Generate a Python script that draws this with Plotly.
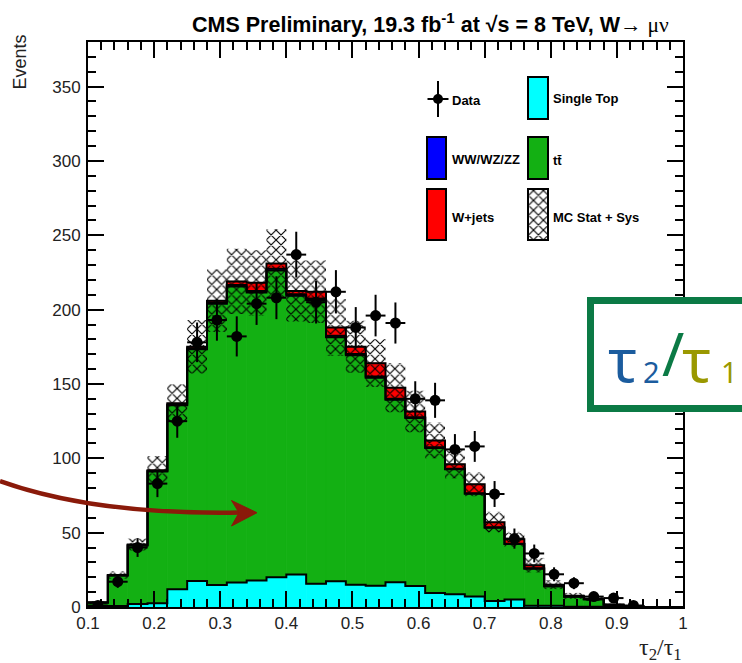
import numpy as np
import plotly.graph_objects as go

# ---- binning of tau2/tau1 (30 bins of width 0.03) ----
bin_edges = [0.10, 0.13, 0.16, 0.19, 0.22, 0.25, 0.28, 0.31, 0.34, 0.37, 0.40,
             0.43, 0.46, 0.49, 0.52, 0.55, 0.58, 0.61, 0.64, 0.67, 0.70,
             0.73, 0.76, 0.79, 0.82, 0.85, 0.88, 0.91, 0.94, 0.97, 1.00]
bin_centers = [0.115, 0.145, 0.175, 0.205, 0.235, 0.265, 0.295, 0.325, 0.355, 0.385,
               0.415, 0.445, 0.475, 0.505, 0.535, 0.565, 0.595, 0.625, 0.655, 0.685,
               0.715, 0.745, 0.775, 0.805, 0.835, 0.865, 0.895, 0.925, 0.955, 0.985]
bin_width = 0.03

# ---- MC backgrounds (events per bin) ----
single_top = [0.3, 0.7, 2.0, 2.5, 12.0, 17.5, 14.8, 16.4, 17.8, 20.0,
              21.8, 15.6, 17.4, 15.0, 14.3, 16.6, 14.1, 9.5, 8.5, 7.0,
              4.0, 5.0, 0.8, 0.8, 0.2, 0.1, 0.0, 0.0, 0.0, 0.0]
ttbar = [2.7, 20.5, 39.4, 88.7, 123.7, 155.9, 189.2, 199.2, 193.7, 206.4,
         187.5, 190.9, 164.1, 154.3, 139.9, 122.8, 113.0, 97.5, 84.1, 69.1,
         49.3, 37.3, 25.0, 13.1, 6.7, 5.1, 1.5, 0.7, 0.0, 0.0]
diboson = [0.0, 0.0, 0.1, 0.3, 0.5, 0.6, 0.8, 0.9, 1.0, 1.1,
           1.0, 1.0, 0.9, 0.8, 0.8, 0.7, 0.6, 0.5, 0.4, 0.4,
           0.3, 0.2, 0.2, 0.1, 0.1, 0.0, 0.0, 0.0, 0.0, 0.0]
wjets = [0.0, 0.3, 0.5, 0.5, 0.8, 1.0, 1.2, 2.5, 5.5, 3.5,
         2.2, 4.5, 5.6, 4.9, 9.0, 7.4, 3.8, 4.5, 3.0, 6.0,
         3.4, 3.0, 2.0, 1.0, 0.5, 0.3, 0.0, 0.0, 0.0, 0.0]
mc_unc = [1.0, 2.5, 4.0, 9.5, 13.0, 18.0, 21.0, 22.0, 22.0, 23.0,
          20.5, 21.0, 19.0, 17.5, 16.0, 16.5, 14.0, 12.0, 9.5, 8.0,
          7.0, 5.0, 5.0, 3.0, 2.0, 1.5, 0.8, 0.5, 0.0, 0.0]

# ---- observed data ----
data_counts = [1, 17, 40, 83, 125, 178, 193, 182, 204, 208,
               237, 205, 212, 188, 196, 191, 140, 139, 106, 108,
               76, 46, 36, 22, 16, 7, 6, 1, None, None]

# ---- axis ticks ----
x_tickvals = [0.1, 0.2, 0.3, 0.4, 0.5, 0.6, 0.7, 0.8, 0.9, 1.0]
x_ticktext = ["0.1", "0.2", "0.3", "0.4", "0.5", "0.6", "0.7", "0.8", "0.9", "1"]
y_tickvals = [0, 50, 100, 150, 200, 250, 300, 350]

# ---- colours ----
C_TOP = "#00FFFF"
C_TT = "#13B013"
C_VV = "#0000FF"
C_WJ = "#FF0000"

W, H = 742, 663
L, R, T, B = 88, 59, 42, 56
XR = (0.1, 1.0)
YR = (0.0, 380.0)
PW, PH = W - L - R, H - T - B


def px(x):  # pixel x -> paper
    return (x - L) / PW


def py(y):  # pixel y -> paper
    return (H - B - y) / PH


def xd(x):  # pixel x -> data
    return XR[0] + (x - L) / PW * (XR[1] - XR[0])


def yd(y):  # pixel y -> data
    return YR[0] + (H - B - y) / PH * (YR[1] - YR[0])


st = np.array(single_top)
tt = np.array(ttbar)
vv = np.array(diboson)
wj = np.array(wjets)
lvl1 = st
lvl2 = lvl1 + tt
lvl3 = lvl2 + vv
lvl4 = lvl3 + wj
unc = np.array(mc_unc)

HATCH = dict(shape="x", fillmode="replace", size=7, solidity=0.3,
             fgcolor="black", bgcolor="rgba(0,0,0,0)")

fig = go.Figure()

# stacked filled histograms
for base, height, col in [(np.zeros_like(st), st, C_TOP), (lvl1, tt, C_TT),
                          (lvl2, vv, C_VV), (lvl3, wj, C_WJ)]:
    fig.add_trace(go.Bar(x=bin_centers, y=height, base=base, width=bin_width,
                         marker=dict(color=col, line=dict(width=0.8, color=col)),
                         showlegend=False, hoverinfo="skip"))

# histogram contours
for lev in [lvl1, lvl2, lvl3, lvl4]:
    fig.add_trace(go.Scatter(x=bin_edges, y=list(lev) + [lev[-1]], mode="lines",
                             line=dict(color="black", width=2, shape="hv"),
                             showlegend=False, hoverinfo="skip"))

# MC stat + syst band
fig.add_trace(go.Bar(x=bin_centers, y=2 * unc, base=lvl4 - unc, width=bin_width,
                     marker=dict(color="black", line=dict(width=0), pattern=HATCH),
                     showlegend=False, hoverinfo="skip"))

# data points
dx = [c for c, n in zip(bin_centers, data_counts) if n is not None]
dy = [n for n in data_counts if n is not None]
fig.add_trace(go.Scatter(x=dx, y=dy, mode="markers",
                         marker=dict(color="black", size=11),
                         error_y=dict(type="data", array=list(np.sqrt(dy)), width=0,
                                      thickness=2, color="black"),
                         error_x=dict(type="constant", value=bin_width / 2, width=0,
                                      thickness=2, color="black"),
                         showlegend=False, hoverinfo="skip"))

# ---- legend (drawn in place) ----
lab_font = dict(family="Liberation Sans", size=13, color="black", weight="bold")
shapes = []
annots = []

# Data entry
fig.add_trace(go.Scatter(x=[xd(438)], y=[yd(99)], mode="markers",
                         marker=dict(color="black", size=10),
                         error_y=dict(type="constant", value=18 / PH * (YR[1] - YR[0]),
                                      width=0, thickness=2, color="black"),
                         error_x=dict(type="constant", value=10.5 / PW * (XR[1] - XR[0]),
                                      width=0, thickness=2, color="black"),
                         showlegend=False, hoverinfo="skip"))

boxes = [((427, 446), (137, 179), C_VV), ((427, 446), (189, 240), C_WJ),
         ((528, 548), (77, 119), C_TOP), ((528, 548), (137, 179), C_TT)]
for (x0, x1), (y0, y1), col in boxes:
    shapes.append(dict(type="rect", xref="x", yref="y", x0=xd(x0), x1=xd(x1),
                       y0=yd(y1), y1=yd(y0), fillcolor=col,
                       line=dict(color="black", width=2), layer="above"))

# hatched legend box
hx0, hx1, hy0, hy1 = 528, 548, 189, 240
fig.add_trace(go.Bar(x=[xd((hx0 + hx1) / 2)], y=[yd(hy0) - yd(hy1)], base=[yd(hy1)],
                     width=xd(hx1) - xd(hx0),
                     marker=dict(color="black", line=dict(width=0), pattern=HATCH),
                     showlegend=False, hoverinfo="skip"))
shapes.append(dict(type="rect", xref="x", yref="y", x0=xd(hx0), x1=xd(hx1),
                   y0=yd(hy1), y1=yd(hy0), line=dict(color="black", width=2),
                   layer="above"))

for txt, x, y in [("Data", 450, 100), ("WW/WZ/ZZ", 450, 159), ("W+jets", 450, 217),
                  ("Single Top", 551, 99), ("tt\u0304", 551, 160),
                  ("MC Stat + Sys", 551, 217)]:
    annots.append(dict(text=txt, xref="paper", yref="paper", x=px(x), y=py(y),
                       xanchor="left", yanchor="middle", showarrow=False,
                       font=lab_font))

# ---- title and axis titles ----
annots.append(dict(
    text="CMS Preliminary, 19.3 fb<sup>-1</sup> at √s = 8 TeV, W→ "
         "<span style='font-family:Liberation Serif;font-weight:normal'>μν</span>",
    xref="paper", yref="paper", x=px(190), y=py(23), xanchor="left", yanchor="middle",
    showarrow=False, font=dict(family="Liberation Sans", size=21.5, color="black",
                               weight="bold")))
annots.append(dict(text="Events", xref="paper", yref="paper", x=px(20), y=py(33),
                   xanchor="center", yanchor="top", textangle=-90, showarrow=False,
                   font=dict(family="Liberation Sans", size=18, color="#222")))
annots.append(dict(text="τ<sub>2</sub>/τ<sub>1</sub>", xref="paper", yref="paper",
                   x=px(684), y=py(649), xanchor="right", yanchor="middle",
                   showarrow=False,
                   font=dict(family="Liberation Serif", size=24, color="#222")))

# ---- curved arrow ----
ARROW = "#8A1A0A"
shapes.append(dict(type="path", xref="paper", yref="paper", layer="above",
                   path=f"M {px(0)},{py(481)} Q {px(95)},{py(515)} {px(240)},{py(512.5)}",
                   line=dict(color=ARROW, width=4.5)))
shapes.append(dict(type="path", xref="paper", yref="paper", layer="above",
                   path=(f"M {px(257)},{py(512.7)} L {px(231.5)},{py(500.5)} "
                         f"L {px(239)},{py(512.7)} L {px(231.5)},{py(526)} Z"),
                   fillcolor=ARROW, line=dict(color=ARROW, width=1)))

# ---- framed tau2/tau1 label ----
shapes.append(dict(type="rect", xref="paper", yref="paper", layer="above",
                   x0=px(590.5), x1=px(770), y0=py(408.5), y1=py(300.5),
                   fillcolor="white", line=dict(color="#0B7A45", width=7)))
BIG = "Noto Sans"
for txt, x, y, size, col in [("τ", 606, 359, 60, "#1B5C9E"),
                              ("2", 641, 371, 29, "#1B5C9E"),
                              ("/", 660, 353, 60, "#0B7A45"),
                              ("τ", 680, 359, 60, "#9A9800"),
                              ("1", 719, 371, 29, "#9A9800")]:
    annots.append(dict(text=txt, xref="paper", yref="paper", x=px(x), y=py(y),
                       xanchor="left", yanchor="middle", showarrow=False,
                       font=dict(family=BIG, size=size, color=col)))

axis_common = dict(showline=True, linecolor="black", linewidth=2, mirror="ticks",
                   ticks="inside", ticklen=16, tickwidth=1.5, tickcolor="black",
                   showgrid=False, zeroline=False,
                   tickfont=dict(family="Liberation Sans", size=17, color="#222"))

fig.update_layout(
    width=W, height=H, margin=dict(l=L, r=R, t=T, b=B),
    paper_bgcolor="white", plot_bgcolor="white",
    barmode="overlay", showlegend=False,
    xaxis=dict(range=list(XR), tickvals=x_tickvals, ticktext=x_ticktext,
               minor=dict(dtick=0.02, tick0=0.1, ticks="inside", ticklen=8,
                          tickwidth=1.5, tickcolor="black"),
               ticklabelstandoff=0, **axis_common),
    yaxis=dict(range=list(YR), tickvals=y_tickvals,
               minor=dict(dtick=10, tick0=0, ticks="inside", ticklen=8,
                          tickwidth=1.5, tickcolor="black"),
               ticklabelstandoff=2, **axis_common),
    shapes=shapes, annotations=annots,
)

fig.write_html("out.html")
